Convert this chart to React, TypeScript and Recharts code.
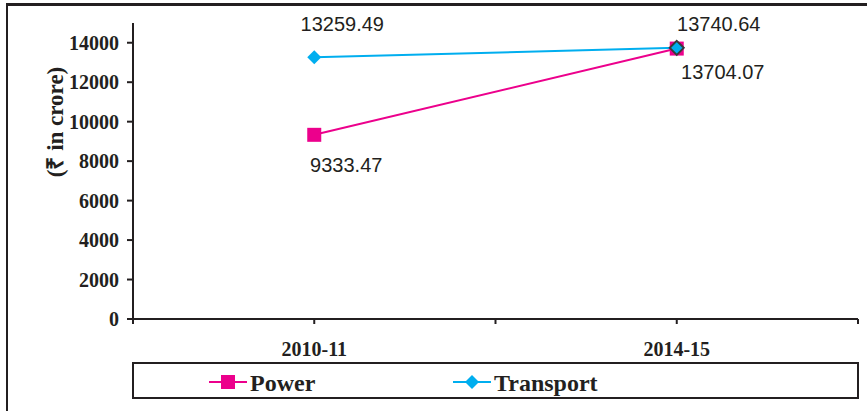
import { LineChart, Line, XAxis, YAxis, LabelList } from 'recharts';

const categories = ['2010-11', '2014-15'];
const power = [9333.47, 13704.07];
const transport = [13259.49, 13740.64];
const yTicks = [0, 2000, 4000, 6000, 8000, 10000, 12000, 14000];

const INK = '#231f20';
const POWER_COLOR = '#ec008c';
const TRANSPORT_COLOR = '#00aeef';
const SERIF = '"Liberation Serif", "Times New Roman", serif';
const SANS = '"Liberation Sans", Arial, sans-serif';

// categories sit in the middle of each half of the axis, like an Excel category axis
const data = categories.map((c, i) => ({
  pos: i * 2 + 1,
  label: c,
  power: power[i],
  transport: transport[i],
}));

const catByPos: Record<number, string> = {};
data.forEach((d) => (catByPos[d.pos] = d.label));

// where each value label sits relative to its point
const powerLabelShift = [
  { dx: 32, dy: 30 },
  { dx: 46, dy: 23 },
];
const transportLabelShift = [
  { dx: 28, dy: -33 },
  { dx: 42, dy: -24 },
];

const fmt = (v: number) => v.toFixed(2);

function makeLabel(shift: { dx: number; dy: number }[]) {
  return (props: any) => {
    const { x, y, value, index } = props;
    const s = shift[index] || { dx: 0, dy: 0 };
    return (
      <text
        x={x + s.dx}
        y={y + s.dy}
        textAnchor="middle"
        dominantBaseline="central"
        fontFamily={SANS}
        fontSize={20}
        fill={INK}
      >
        {fmt(Number(value))}
      </text>
    );
  };
}

const SquareDot = (props: any) => {
  const { cx, cy, index } = props;
  if (cx == null || cy == null) return null;
  return <rect key={`p${index}`} x={cx - 7} y={cy - 7} width={14} height={14} fill={POWER_COLOR} />;
};

const DiamondDot = (props: any) => {
  const { cx, cy, index } = props;
  if (cx == null || cy == null) return null;
  const r = 7;
  return (
    <polygon
      key={`t${index}`}
      points={`${cx},${cy - r} ${cx + r},${cy} ${cx},${cy + r} ${cx - r},${cy}`}
      fill={TRANSPORT_COLOR}
      stroke={index === 1 ? '#3a3a3a' : 'none'}
      strokeWidth={2}
    />
  );
};

const YTitle = () => (
  <text
    x={55}
    y={122}
    transform="rotate(-90 55 122)"
    textAnchor="middle"
    dominantBaseline="central"
    fontFamily={SERIF}
    fontWeight={700}
    fontSize={23}
    fill={INK}
  >
    (₹ in crore)
  </text>
);

const legendItems = [
  { name: 'Power', color: POWER_COLOR, shape: 'square', x: 209 },
  { name: 'Transport', color: TRANSPORT_COLOR, shape: 'diamond', x: 453 },
];

function LegendBox() {
  return (
    <div
      style={{
        position: 'absolute',
        left: 132,
        top: 362,
        width: 727,
        height: 37,
        boxSizing: 'border-box',
        border: `2px solid ${INK}`,
      }}
    >
      <svg width={723} height={33} style={{ display: 'block' }}>
        {legendItems.map((it) => {
          const x0 = it.x - 134;
          const cy = 18;
          const mid = x0 + 19;
          return (
            <g key={it.name}>
              <line x1={x0} y1={cy} x2={x0 + 38} y2={cy} stroke={it.color} strokeWidth={2} />
              {it.shape === 'square' ? (
                <rect x={mid - 7} y={cy - 7} width={14} height={14} fill={it.color} />
              ) : (
                <polygon
                  points={`${mid},${cy - 7} ${mid + 7},${cy} ${mid},${cy + 7} ${mid - 7},${cy}`}
                  fill={it.color}
                />
              )}
              <text
                x={x0 + 41}
                y={cy + 1}
                dominantBaseline="central"
                fontFamily={SERIF}
                fontWeight={700}
                fontSize={24}
                fill={INK}
              >
                {it.name}
              </text>
            </g>
          );
        })}
      </svg>
    </div>
  );
}

export default function App() {
  return (
    <div style={{ position: 'absolute', left: 0, top: 0, width: 867, height: 411, background: '#fff' }}>
      <div style={{ position: 'absolute', left: 6, top: 3, width: 861, height: 3, background: INK }} />
      <div style={{ position: 'absolute', left: 6, top: 3, width: 2, height: 408, background: INK }} />
      <div style={{ position: 'absolute', left: 0, top: 0 }}>
        <LineChart
          width={867}
          height={411}
          data={data}
          margin={{ top: 23, right: 9, bottom: 52, left: 0 }}
        >
          <XAxis
            dataKey="pos"
            type="number"
            domain={[0, 4]}
            ticks={[0, 1, 2, 3, 4]}
            interval={0}
            tickFormatter={(v: number) => catByPos[v] || ''}
            axisLine={{ stroke: INK, strokeWidth: 2 }}
            tickLine={{ stroke: INK, strokeWidth: 2 }}
            tickSize={5}
            tickMargin={18}
            height={40}
            tick={{ fill: INK, fontFamily: SERIF, fontWeight: 700, fontSize: 20 }}
          />
          <YAxis
            width={133}
            domain={[0, 15000]}
            ticks={yTicks}
            interval={0}
            allowDataOverflow
            axisLine={{ stroke: INK, strokeWidth: 2 }}
            tickLine={{ stroke: INK, strokeWidth: 2 }}
            tickSize={6}
            tickMargin={8}
            tick={{ fill: INK, fontFamily: SERIF, fontWeight: 700, fontSize: 20 }}
            label={<YTitle />}
          />
          <Line
            dataKey="power"
            name="Power"
            stroke={POWER_COLOR}
            strokeWidth={2}
            dot={<SquareDot />}
            activeDot={false}
            isAnimationActive={false}
          >
            <LabelList dataKey="power" content={makeLabel(powerLabelShift)} />
          </Line>
          <Line
            dataKey="transport"
            name="Transport"
            stroke={TRANSPORT_COLOR}
            strokeWidth={2}
            dot={<DiamondDot />}
            activeDot={false}
            isAnimationActive={false}
          >
            <LabelList dataKey="transport" content={makeLabel(transportLabelShift)} />
          </Line>
        </LineChart>
      </div>
      <LegendBox />
    </div>
  );
}
